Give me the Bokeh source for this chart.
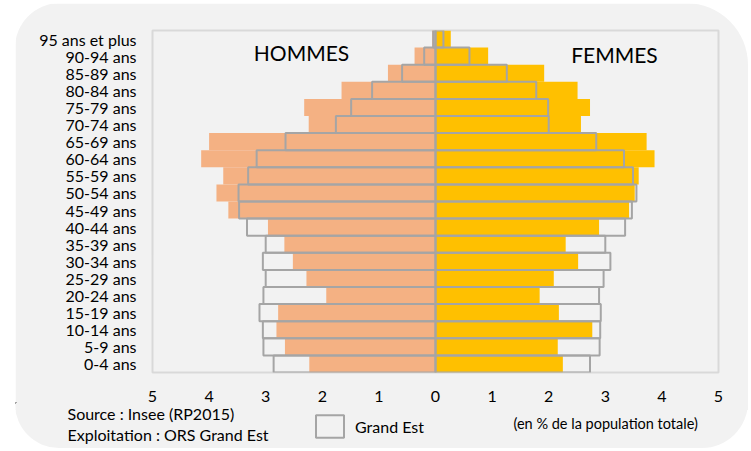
from bokeh.plotting import figure
from bokeh.models import (ColumnDataSource, FactorRange, Range1d, FixedTicker, Label,
                          Legend, LegendItem)
from bokeh.embed import file_html
from bokeh.resources import INLINE

# ---- data (bottom to top) ----
ages = ["0-4 ans", "5-9 ans", "10-14 ans", "15-19 ans", "20-24 ans", "25-29 ans",
        "30-34 ans", "35-39 ans", "40-44 ans", "45-49 ans", "50-54 ans", "55-59 ans",
        "60-64 ans", "65-69 ans", "70-74 ans", "75-79 ans", "80-84 ans", "85-89 ans",
        "90-94 ans", "95 ans et plus"]

hommes = [2.23, 2.66, 2.81, 2.78, 1.93, 2.28, 2.52, 2.67, 2.96, 3.66,
          3.87, 3.75, 4.14, 4.00, 2.24, 2.32, 1.66, 0.84, 0.37, 0.06]
femmes = [2.25, 2.16, 2.77, 2.18, 1.84, 2.09, 2.52, 2.30, 2.89, 3.42,
          3.52, 3.59, 3.87, 3.73, 2.57, 2.73, 2.51, 1.92, 0.93, 0.27]
hommes_ge = [2.86, 3.04, 3.05, 3.11, 3.04, 3.00, 3.05, 3.00, 3.33, 3.47,
             3.48, 3.31, 3.16, 2.65, 1.76, 1.49, 1.12, 0.59, 0.20, 0.04]
femmes_ge = [2.73, 2.90, 2.91, 2.92, 2.89, 2.97, 3.09, 3.00, 3.35, 3.47,
             3.55, 3.49, 3.33, 2.84, 2.00, 1.99, 1.78, 1.26, 0.60, 0.14]

tick_values = [-5, -4, -3, -2, -1, 0, 1, 2, 3, 4, 5]
tick_labels = ["5", "4", "3", "2", "1", "0", "1", "2", "3", "4", "5"]

src = ColumnDataSource(dict(
    age=ages,
    h=[-v for v in hommes],
    f=femmes,
    hge=[-v for v in hommes_ge],
    fge=femmes_ge,
))

FONT = "Lato"
TXT = "#000000"
BG = "#f2f2f2"
GE_COLOR = "#A5A5A5"

# ---- main pyramid ----
p = figure(width=733, height=407, output_backend="svg", toolbar_location=None,
           y_range=FactorRange(factors=ages), x_range=Range1d(-5, 5),
           min_border_left=137, min_border_right=30, min_border_top=27,
           min_border_bottom=38)
p.background_fill_color = BG
p.border_fill_color = BG
p.outline_line_color = "#d9d9d9"
p.outline_line_width = 2
p.grid.visible = False
p.styles = {"border-radius": "45px 62px 0 0", "overflow": "hidden",
            "margin-left": "15px", "margin-top": "3px"}

p.hbar(y="age", left=0, right="h", height=1.0, source=src,
       fill_color="#F4B183", line_color=None)
p.hbar(y="age", left=0, right="f", height=1.0, source=src,
       fill_color="#FFC000", line_color=None)
p.hbar(y="age", left=0, right="hge", height=1.0, source=src,
       fill_color=None, line_color=GE_COLOR, line_width=2)
p.hbar(y="age", left=0, right="fge", height=1.0, source=src,
       fill_color=None, line_color=GE_COLOR, line_width=2)

p.xaxis.ticker = FixedTicker(ticks=tick_values)
p.xaxis.major_label_overrides = {v: l for v, l in zip(tick_values, tick_labels)}
for ax in (p.xaxis, p.yaxis):
    ax.axis_line_color = None
    ax.major_tick_line_color = None
    ax.minor_tick_line_color = None
    ax.major_tick_out = 0
    ax.major_tick_in = 0
    ax.major_label_text_font = FONT
    ax.major_label_text_font_size = "16px"
    ax.major_label_text_color = TXT
p.xaxis.major_label_standoff = 18
p.yaxis.major_label_standoff = 16

p.add_layout(Label(x=149, y=320, x_units="screen", y_units="screen", text="HOMMES",
                   text_font=FONT, text_font_size="21px", text_color=TXT,
                   text_align="center", text_baseline="middle"))
p.add_layout(Label(x=462, y=318, x_units="screen", y_units="screen", text="FEMMES",
                   text_font=FONT, text_font_size="21px", text_color=TXT,
                   text_align="center", text_baseline="middle"))

# ---- footer (source, legend, unit), separate root, page-pixel coordinates ----
f = figure(width=733, height=46, output_backend="svg", toolbar_location=None,
           x_range=Range1d(15, 748), y_range=Range1d(448, 402),
           x_axis_location=None, y_axis_location=None,
           min_border_left=0, min_border_right=0,
           min_border_top=0, min_border_bottom=0)
f.background_fill_color = BG
f.border_fill_color = BG
f.outline_line_color = None
f.grid.visible = False
f.styles = {"border-radius": "0 0 46px 44px", "overflow": "hidden",
            "margin-left": "15px", "margin-top": "-8px"}

f.add_layout(Label(x=67, y=413, text="Source : Insee (RP2015)", text_font=FONT,
                   text_font_size="16px", text_color=TXT, text_align="left",
                   text_baseline="middle"))
f.add_layout(Label(x=67, y=434, text="Exploitation : ORS Grand Est", text_font=FONT,
                   text_font_size="16px", text_color=TXT, text_align="left",
                   text_baseline="middle"))
f.add_layout(Label(x=513, y=423, text="(en % de la population totale)", text_font=FONT,
                   text_font_size="14.5px", text_color=TXT, text_align="left",
                   text_baseline="middle"))

# legend swatch: Grand Est series (its rows lie outside this footer's view)
ge_src = ColumnDataSource(dict(i=list(range(len(femmes_ge))), v=femmes_ge))
ge_legend_r = f.hbar(y="i", left=0, right="v", height=1.0, source=ge_src,
                     fill_color=None, line_color=GE_COLOR, line_width=2)
legend = Legend(items=[LegendItem(label="Grand Est", renderers=[ge_legend_r])],
                location=(297, 8), orientation="horizontal",
                glyph_width=35, glyph_height=28, padding=0, margin=0, spacing=0,
                label_standoff=8, label_text_font=FONT, label_text_font_size="16px",
                label_text_color=TXT, label_text_baseline="top",
                background_fill_alpha=0, border_line_color=None)
f.add_layout(legend)

open("out.html", "w").write(file_html([p, f], INLINE))
